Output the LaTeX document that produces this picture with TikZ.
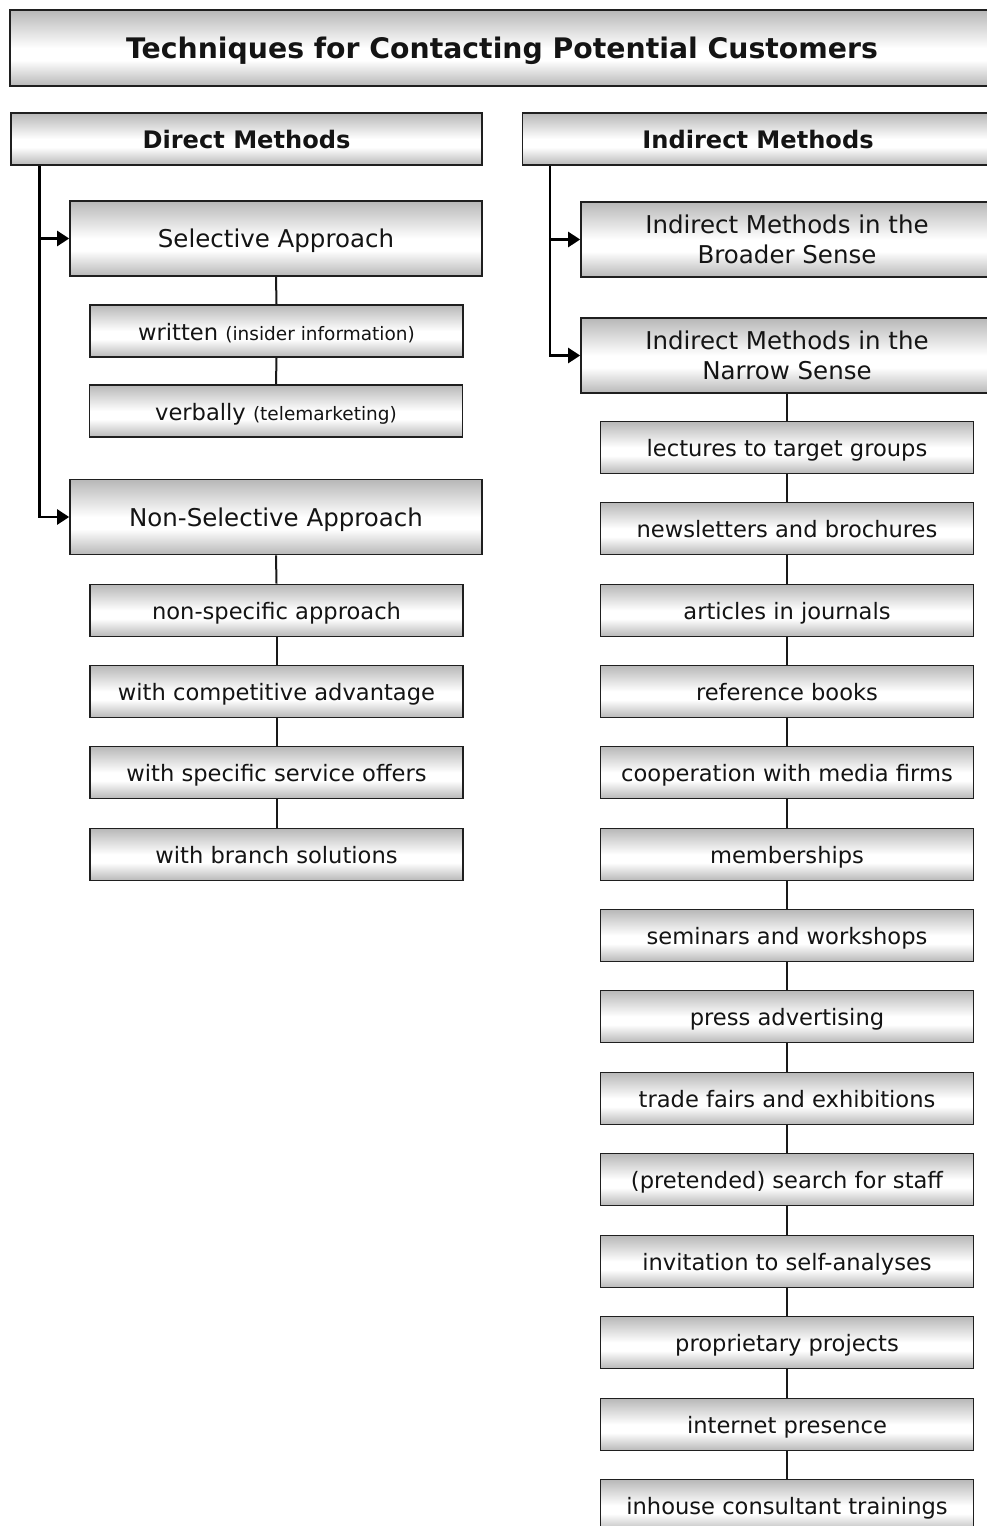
\documentclass[tikz,border=0pt]{standalone}
\usepackage{fontspec}
\setmainfont{DejaVu Sans}
\usetikzlibrary{arrows.meta,calc}
\definecolor{gtop}{gray}{0.72}
\definecolor{gbot}{gray}{0.72}
\definecolor{bord}{gray}{0.12}
\newcommand{\smalltxt}[1]{{\fontsize{18.5}{22}\selectfont #1}}
\tikzset{
  box/.style={draw=bord, line width=1.7pt, inner sep=0pt, align=center, text=black!92,
    path picture={
      \coordinate (pbnw) at (path picture bounding box.north west);
      \coordinate (pbse) at (path picture bounding box.south east);
      \coordinate (pbma) at ($(pbnw)!0.50!(pbse)$);
      \coordinate (pbmb) at ($(pbnw)!0.66!(pbse)$);
      \shade[top color=gtop, bottom color=white] (pbnw) rectangle (pbse |- pbma);
      \fill[white] (pbnw |- pbma) rectangle (pbse |- pbmb);
      \shade[top color=white, bottom color=gbot] (pbnw |- pbmb) rectangle (pbse);
    }},
  titlebox/.style={box, text height=21.5pt, text depth=0.5pt, minimum width=984pt, minimum height=76pt, font=\fontsize{28.3}{34}\selectfont\bfseries},
  headbox/.style={box, text height=18.5pt, text depth=0pt, minimum width=471pt, minimum height=52pt, font=\fontsize{24.1}{29}\selectfont\bfseries},
  bigbox/.style={box, minimum width=412pt, minimum height=75pt, font=\fontsize{24.5}{30}\selectfont},
  onebig/.style={bigbox, text height=18.6pt, text depth=0.6pt},
  itembox/.style={box, text height=18pt, text depth=0pt, minimum width=373pt, minimum height=52pt, font=\fontsize{22.6}{27}\selectfont},
  trunk/.style={line width=2.6pt, draw=black},
  chain/.style={line width=2pt, draw=black!90},
  arr/.style={-{Triangle[length=12pt,width=15pt]}}
}
\begin{document}
\begin{tikzpicture}[x=1pt,y=-1pt]
\useasboundingbox (0,0) rectangle (986,1526);
% title and headers
\node[titlebox] (t) at (502,48) {Techniques for Contacting Potential Customers};
\node[headbox] (dm) at (246.5,139) {Direct Methods};
\node[headbox] (im) at (758,139) {Indirect Methods};
% left column
\node[onebig] (sa) at (276,238.5) {Selective Approach};
\node[itembox] (wr) at (276.5,331) {written \smalltxt{(insider information)}};
\node[itembox] (vb) at (276,411) {verbally \smalltxt{(telemarketing)}};
\node[onebig] (ns) at (276,517) {Non-Selective Approach};
\node[itembox] (l1) at (276.5,610.5) {non-specific approach};
\node[itembox] (l2) at (276.5,691.5) {with competitive advantage};
\node[itembox] (l3) at (276.5,772.5) {with specific service offers};
\node[itembox] (l4) at (276.5,854.5) {with branch solutions};
% right column
\node[bigbox] (bs) at (787,239.5) {Indirect Methods in the\\Broader Sense};
\node[bigbox] (nw) at (787,355.5) {Indirect Methods in the\\Narrow Sense};
\node[itembox] (r1) at (787,447.5) {lectures to target groups};
\node[itembox] (r2) at (787,528.5) {newsletters and brochures};
\node[itembox] (r3) at (787,610.5) {articles in journals};
\node[itembox] (r4) at (787,691.5) {reference books};
\node[itembox] (r5) at (787,772.5) {cooperation with media firms};
\node[itembox] (r6) at (787,854.5) {memberships};
\node[itembox] (r7) at (787,935.5) {seminars and workshops};
\node[itembox] (r8) at (787,1016.5) {press advertising};
\node[itembox] (r9) at (787,1098.5) {trade fairs and exhibitions};
\node[itembox] (r10) at (787,1179.5) {(pretended) search for staff};
\node[itembox] (r11) at (787,1261.5) {invitation to self-analyses};
\node[itembox] (r12) at (787,1342.5) {proprietary projects};
\node[itembox] (r13) at (787,1424.5) {internet presence};
\node[itembox] (r14) at (787,1505.5) {inhouse consultant trainings};
% trunks with arrows
\coordinate (dl) at ([xshift=29.5pt]dm.south west);
\coordinate (il) at ([xshift=28.5pt]im.south west);
\draw[trunk,arr] (dl) |- (ns.west);
\draw[trunk,arr] (dl |- sa.west) -- (sa.west);
\draw[trunk,arr] (il) |- (nw.west);
\draw[trunk,arr] (il |- bs.west) -- (bs.west);
% chains
\draw[chain] (sa.south) -- (wr.north);
\draw[chain] (wr.south) -- (vb.north);
\draw[chain] (ns.south) -- (l1.north);
\draw[chain] (l1.south) -- (l2.north);
\draw[chain] (l2.south) -- (l3.north);
\draw[chain] (l3.south) -- (l4.north);
\draw[chain] (nw.south) -- (r1.north);
\foreach \a/\b in {r1/r2,r2/r3,r3/r4,r4/r5,r5/r6,r6/r7,r7/r8,r8/r9,r9/r10,r10/r11,r11/r12,r12/r13,r13/r14}
  \draw[chain] (\a.south) -- (\b.north);
\end{tikzpicture}
\end{document}
